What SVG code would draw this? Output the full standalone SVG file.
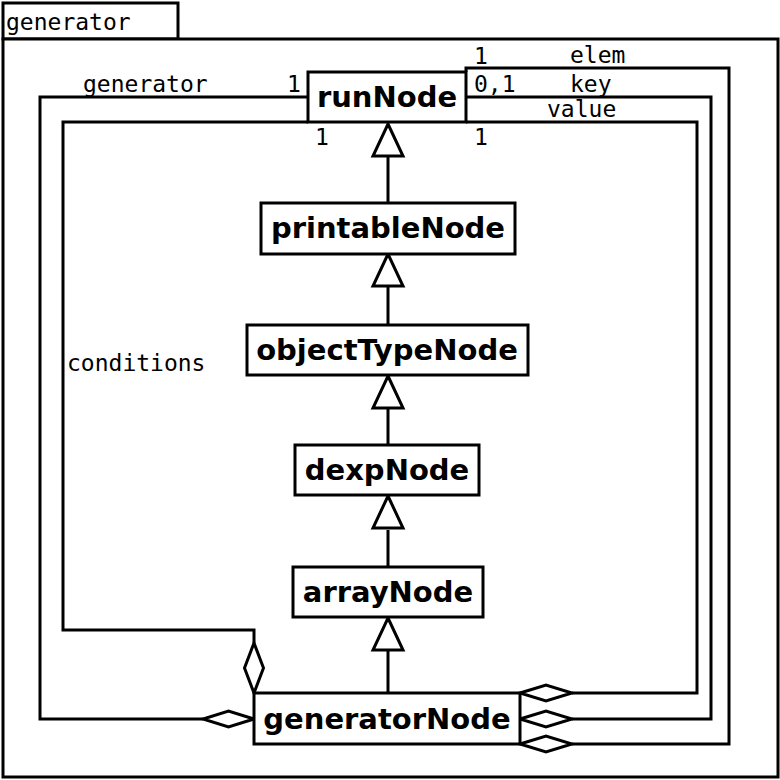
<svg xmlns="http://www.w3.org/2000/svg" width="780" height="780" viewBox="0 0 780 780">
<style>
.box{fill:#fff;stroke:#000;stroke-width:3}
.ln{fill:none;stroke:#000;stroke-width:3}
.dia{fill:#fff;stroke:#000;stroke-width:3;stroke-linejoin:miter}
.tri{fill:#fff;stroke:#000;stroke-width:3}
.nt{font-family:"DejaVu Sans",sans-serif;font-weight:bold;font-size:29px;text-anchor:middle}
.lb{font-family:"DejaVu Sans Mono",monospace;font-size:23px}
</style>
<rect width="780" height="780" fill="#fff"/>
<g id="package">
<rect class="box" x="3" y="3" width="175" height="36"/>
<rect class="box" x="3" y="39" width="775" height="738"/>
<text class="lb" x="6" y="30">generator</text>
</g>
<g id="connectors">
<path class="ln" d="M308,97 H40 V719 H203"/>
<path class="dia" d="M254,719 L228.5,711 L203,719 L228.5,727 Z"/>
<path class="ln" d="M308,122 H63 V630 H254 V643"/>
<path class="dia" d="M254,693 L263.5,668 L254,643 L244.5,668 Z"/>
<path class="ln" d="M466,72 V68 H729 V744 H572"/>
<path class="dia" d="M520,744 L546,736 L572,744 L546,752 Z"/>
<path class="ln" d="M466,97 H711 V719 H572"/>
<path class="dia" d="M520,719 L546,711 L572,719 L546,727 Z"/>
<path class="ln" d="M466,122 H697 V693 H572"/>
<path class="dia" d="M520,693 L546,685 L572,693 L546,701 Z"/>
<path class="ln" d="M388,156 V203 M388,277 V325 M388,409 V445 M388,530 V567 M388,651 V693"/>
<path class="tri" d="M388,124 L403,156 L373,156 Z"/>
<path class="tri" d="M388,254 L403,286 L373,286 Z"/>
<path class="tri" d="M388,376 L403,408 L373,408 Z"/>
<path class="tri" d="M388,496 L403,528 L373,528 Z"/>
<path class="tri" d="M388,618 L403,650 L373,650 Z"/>
<text class="lb" x="83" y="92">generator</text>
<text class="lb" x="287" y="92">1</text>
<text class="lb" x="67" y="371">conditions</text>
<text class="lb" x="315" y="145">1</text>
<text class="lb" x="474" y="64">1</text>
<text class="lb" x="570" y="63">elem</text>
<text class="lb" x="474" y="92">0,1</text>
<text class="lb" x="570" y="92">key</text>
<text class="lb" x="547" y="117">value</text>
<text class="lb" x="474" y="145">1</text>
</g>
<g id="runNode">
<rect class="box" x="308" y="72" width="158" height="50"/>
<text class="nt" x="387" y="107">runNode</text>
</g>
<g id="printableNode">
<rect class="box" x="261" y="203" width="254" height="51"/>
<text class="nt" x="388" y="238">printableNode</text>
</g>
<g id="objectTypeNode">
<rect class="box" x="247" y="325" width="281" height="50"/>
<text class="nt" x="387" y="360">objectTypeNode</text>
</g>
<g id="dexpNode">
<rect class="box" x="295" y="445" width="184" height="50"/>
<text class="nt" x="387" y="480">dexpNode</text>
</g>
<g id="arrayNode">
<rect class="box" x="293" y="567" width="190" height="50"/>
<text class="nt" x="388" y="602">arrayNode</text>
</g>
<g id="generatorNode">
<rect class="box" x="254" y="693" width="266" height="51"/>
<text class="nt" x="387" y="729">generatorNode</text>
</g>
</svg>
